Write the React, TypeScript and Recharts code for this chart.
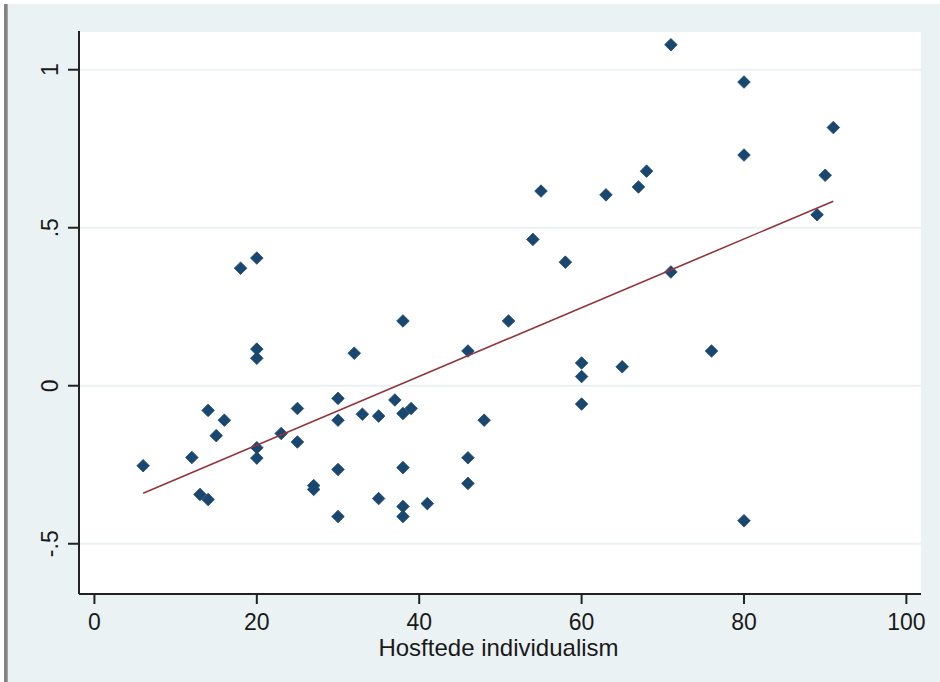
import React from "react";
import { ScatterChart, Scatter, XAxis, YAxis, CartesianGrid } from "recharts";

const xValues = [6, 12, 13, 14, 14, 15, 16, 18, 20, 20, 20, 20, 20, 23, 25, 25, 27, 27, 30, 30, 30, 30, 32, 33, 35, 35, 37, 38, 38, 38, 38, 38, 39, 41, 46, 46, 46, 48, 51, 54, 55, 58, 60, 60, 60, 63, 65, 67, 68, 71, 71, 76, 80, 80, 80, 89, 90, 91];
const yValues = [-0.253, -0.227, -0.344, -0.36, -0.078, -0.158, -0.109, 0.372, 0.404, 0.116, 0.087, -0.196, -0.229, -0.151, -0.072, -0.178, -0.316, -0.328, -0.04, -0.109, -0.265, -0.414, 0.103, -0.09, -0.357, -0.096, -0.045, 0.205, -0.088, -0.259, -0.382, -0.414, -0.072, -0.373, 0.11, -0.228, -0.309, -0.109, 0.205, 0.463, 0.616, 0.391, 0.072, 0.029, -0.058, 0.604, 0.06, 0.629, 0.679, 1.079, 0.36, 0.11, 0.961, 0.73, -0.427, 0.541, 0.666, 0.817];

const fitX = [6, 91];
const fitY = [-0.34, 0.584];

const xTicks = [0, 20, 40, 60, 80, 100];
const xTickLabels = ["0", "20", "40", "60", "80", "100"];
const yTicks = [-0.5, 0, 0.5, 1];
const yTickLabels = ["-.5", "0", ".5", "1"];

const xTitle = "Hosftede individualism";

const points = xValues.map((x, i) => ({ x, y: yValues[i] }));
const fitData = fitX.map((x, i) => ({ x, y: fitY[i] }));

const FONT = "'Liberation Sans', Arial, sans-serif";
const TEXT = "#1a1a1a";

const Diamond = (props: any) => {
  const { cx, cy } = props;
  if (cx == null || cy == null) return <g />;
  const r = 6.3;
  return (
    <path
      d={`M${cx},${cy - r}L${cx + r},${cy}L${cx},${cy + r}L${cx - r},${cy}Z`}
      fill="#1a476f"
      stroke="#1a476f"
      strokeWidth={0.8}
      strokeLinejoin="round"
    />
  );
};

const NoPoint = () => <g />;

const XTick = (props: any) => {
  const { x, payload } = props;
  const idx = xTicks.indexOf(payload.value);
  return (
    <text x={x} y={629.5} textAnchor="middle" fontSize={23} fontFamily={FONT} fill={TEXT}>
      {idx >= 0 ? xTickLabels[idx] : payload.value}
    </text>
  );
};

const YTick = (props: any) => {
  const { y, payload } = props;
  const idx = yTicks.indexOf(payload.value);
  return (
    <text
      x={58}
      y={y}
      transform={`rotate(-90, 58, ${y})`}
      textAnchor="middle"
      fontSize={23}
      fontFamily={FONT}
      fill={TEXT}
    >
      {idx >= 0 ? yTickLabels[idx] : payload.value}
    </text>
  );
};

const XTitle = (props: any) => {
  const vb = props.viewBox || { x: 79, width: 842 };
  return (
    <text x={vb.x + vb.width / 2 - 1.5} y={656} textAnchor="middle" fontSize={24} fontFamily={FONT} fill={TEXT}>
      {xTitle}
    </text>
  );
};

export default function App() {
  return (
    <div style={{ position: "absolute", left: 0, top: 0, width: 940, height: 682, background: "#ffffff", overflow: "hidden" }}>
      <div
        style={{
          position: "absolute",
          left: 4,
          top: 4,
          width: 4,
          height: 678,
          background: "linear-gradient(to right, #8a8a8a, #7a7a7a 50%, #b0b0b0)",
        }}
      />
      <div style={{ position: "absolute", left: 8, top: 4, width: 932, height: 678, background: "#eaf2f3" }} />
      <div style={{ position: "absolute", left: 0, top: 0 }}>
        <ScatterChart width={940} height={682} margin={{ top: 31, right: 19, bottom: 0, left: 0 }}>
          <CartesianGrid vertical={false} horizontal={true} stroke="#eaf2f3" strokeWidth={2} fill="#ffffff" />
          <XAxis
            type="number"
            dataKey="x"
            domain={[-1.9, 101.8]}
            ticks={xTicks}
            allowDataOverflow
            height={88}
            tickSize={10}
            tickLine={{ stroke: "#222", strokeWidth: 2 }}
            axisLine={{ stroke: "#222", strokeWidth: 2 }}
            tick={<XTick />}
            interval={0}
            label={{ content: <XTitle /> }}
          />
          <YAxis
            type="number"
            dataKey="y"
            domain={[-0.659, 1.1225]}
            ticks={yTicks}
            allowDataOverflow
            width={79}
            tickSize={11}
            tickLine={{ stroke: "#222", strokeWidth: 2 }}
            axisLine={{ stroke: "#222", strokeWidth: 2 }}
            tick={<YTick />}
            interval={0}
          />
          <Scatter data={points} shape={<Diamond />} isAnimationActive={false} />
          <Scatter
            data={fitData}
            line={{ stroke: "#90353b", strokeWidth: 1.6 }}
            shape={<NoPoint />}
            isAnimationActive={false}
          />
        </ScatterChart>
      </div>
    </div>
  );
}
